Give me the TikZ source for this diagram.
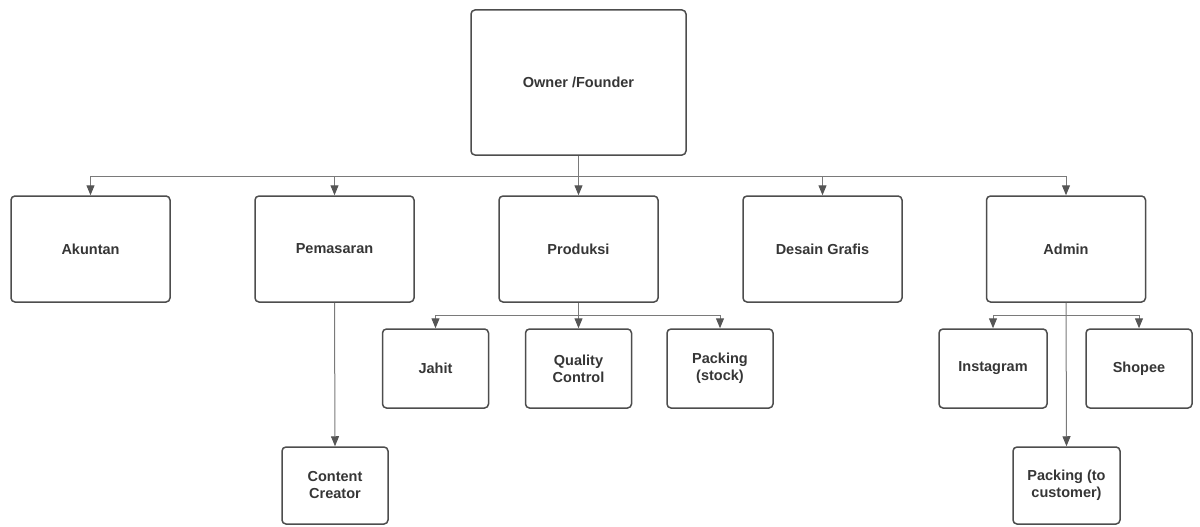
\documentclass[tikz,border=0pt]{standalone}
\usepackage{fontspec}
\setmainfont{Liberation Sans}
\usepackage{tikz}
\usetikzlibrary{arrows.meta,positioning,calc}
\definecolor{boxline}{HTML}{4D4D4D}
\definecolor{wireline}{HTML}{7A7A7A}
\definecolor{tipfill}{HTML}{555555}
\definecolor{txt}{HTML}{363636}
\tikzset{
  orgTop/.style={draw=boxline, line width=1.5pt, rounded corners=4pt, fill=white,
    minimum width=215pt, minimum height=145pt,
    font=\fontsize{14.5}{17}\selectfont\bfseries, align=center, text=txt},
  orgDiv/.style={draw=boxline, line width=1.5pt, rounded corners=4pt, fill=white,
    minimum width=159pt, minimum height=106pt,
    font=\fontsize{14.5}{17}\selectfont\bfseries, align=center, text=txt},
  orgSub/.style={draw=boxline, line width=1.5pt, rounded corners=4pt, fill=white,
    minimum width=106pt, minimum height=79pt,
    font=\fontsize{14.5}{17}\selectfont\bfseries, align=center, text=txt},
  %% connectors
  wire/.style={draw=wireline, line width=1pt},
  tip/.style={-{Triangle[length=10pt, width=8pt, color=tipfill]}, line width=1pt},
}

\begin{document}
\begin{tikzpicture}[x=1pt, y=-1pt]
\useasboundingbox (0,0) rectangle (1200,527);

%% top level
\node[orgTop] (pOwner) at (578.5, 82.5) {Owner /Founder};

%% divisions
\node[orgDiv] (pAkuntan)   at (90.5,  249) {Akuntan};
\node[orgDiv] (pPemasaran) at (334.5, 249) {Pemasaran};
\node[orgDiv] (pProduksi)  at (578.5, 249) {Produksi};
\node[orgDiv] (pDesain)    at (822.5, 249) {Desain Grafis};
\node[orgDiv] (pAdmin)     at (1066,  249) {Admin};

%% sub units
\node[orgSub] (pJahit)     at (435.5, 368.5) {Jahit};
\node[orgSub] (pQC)        at (578.5, 368.5) {Quality\\Control};
\node[orgSub] (pPackStock) at (720,   368.5) {Packing\\(stock)};
\node[orgSub, minimum width=108pt] (pInsta) at (993, 368.5) {Instagram};
\node[orgSub] (pShopee)    at (1139,  368.5) {Shopee};
\node[orgSub, minimum height=77pt] (pContent)  at (335,  485.5) {Content\\Creator};
\node[orgSub, minimum height=77pt, minimum width=107pt] (pPackCust) at (1066.5, 485.5) {Packing (to\\customer)};

%% owner -> divisions
\coordinate (busTop) at (578.5, 176);
\draw[wire] (busTop -| pAkuntan.north) -- (busTop -| pAdmin.north);
\draw[wire, tip] (pOwner.south) -- (pProduksi.north);
\foreach \n in {pAkuntan, pPemasaran, pDesain, pAdmin}
  \draw[wire, tip] (busTop -| \n.north) -- (\n.north);

%% produksi -> sub units
\coordinate (busProd) at (578.5, 315);
\draw[wire] (busProd -| pJahit.north) -- (busProd -| pPackStock.north);
\draw[wire, tip] (pProduksi.south) -- (pQC.north);
\foreach \n in {pJahit, pPackStock}
  \draw[wire, tip] (busProd -| \n.north) -- (\n.north);

%% admin -> sub units
\coordinate (busAdm) at (1066, 315);
\draw[wire] (busAdm -| pInsta.north) -- (busAdm -| pShopee.north);
\draw[wire, tip] (pAdmin.south) -- (pPackCust.north);
\foreach \n in {pInsta, pShopee}
  \draw[wire, tip] (busAdm -| \n.north) -- (\n.north);

%% pemasaran -> content
\draw[wire, tip] (pPemasaran.south) -- (pContent.north);

\end{tikzpicture}
\end{document}
